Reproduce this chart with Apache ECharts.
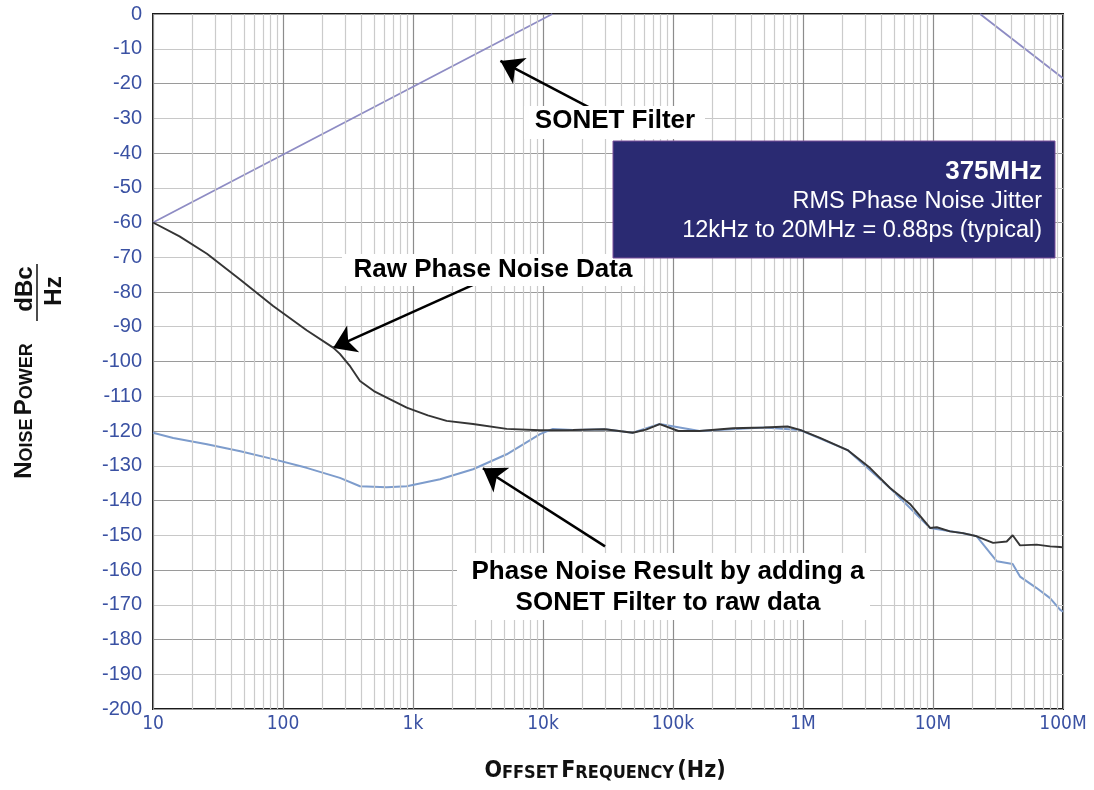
<!DOCTYPE html>
<html>
<head>
<meta charset="utf-8">
<script src="https://cdn.jsdelivr.net/npm/echarts@6/dist/echarts.min.js"></script>
<style>
html,body{margin:0;padding:0;background:#fff;}
#chart{width:1094px;height:790px;}
</style>
</head>
<body>
<div id="chart"></div>
<script>
// ---- data ----
var xTickLabels = {10:'10',100:'100',1000:'1k',10000:'10k',100000:'100k',1000000:'1M',10000000:'10M',100000000:'100M'};

var rawFreq = [10,16,26,47,84,152,243,274,330,391,500,628,895,1300,1815,2895,5260,9480,17000,30000,49000,62000,79000,110000,160000,290000,500000,760000,950000,1350000,2200000,3270000,4670000,6650000,9500000,10700000,13500000,17000000,21700000,29000000,36900000,41000000,46700000,62700000,79500000,94800000,100000000];
var rawDb   = [-60,-64,-69,-76.5,-84,-91,-96,-97.8,-101.5,-105.6,-108.5,-110.4,-113.3,-115.5,-117.1,-118,-119.4,-119.8,-119.7,-119.5,-120.5,-119.6,-118,-120,-120,-119.2,-119,-118.7,-119.7,-122,-125.5,-130.6,-136.4,-141,-147.9,-147.7,-148.9,-149.4,-150.3,-152.2,-151.8,-150,-152.9,-152.7,-153.2,-153.4,-153.5];

var filtFreq = [10,14.3,26,47,84,152,274,391,628,895,1615,2895,5260,9480,11900,17000,30000,49000,79000,160000,500000,950000,2200000,4670000,9500000,17000000,21700000,31000000,41000000,46700000,62700000,79500000,94800000,100000000];
var filtDb   = [-120.5,-122,-123.8,-125.8,-128.1,-130.6,-133.5,-135.9,-136.2,-135.9,-133.9,-131,-126.7,-120.9,-119.4,-119.7,-119.5,-120.5,-118,-120,-119,-119.7,-125.5,-136.4,-147.9,-149.4,-150.3,-157.5,-158.3,-161.9,-165.2,-168.1,-171.4,-172];

var sonetFreq = [10,11800,null,23000000,100000000];
var sonetDb   = [-60,0,null,0,-18.5];

var yMin = -200, yMax = 0, yStep = 10;
var xMin = 10, xMax = 100000000;
var minorMult = [2,3,4,5,6,7,8,9];

function pairs(f, v){ return f.map(function(x,i){ return x===null ? [null,null] : [x, v[i]]; }); }

var minorLines = [];
for (var d = xMin; d < xMax; d *= 10) {
  minorMult.forEach(function(m){ minorLines.push({xAxis: d*m}); });
}

var blue = '#3a51a3';
var annFont = "bold 26px 'Liberation Sans',Arial,sans-serif";
var chart = echarts.init(document.getElementById('chart'));
var option = {
  animation: false,
  backgroundColor: '#fff',
  grid: {left:153, right:31, top:14, bottom:81, show:true, borderColor:'#1a1a1a', borderWidth:2, backgroundColor:'transparent'},
  xAxis: {
    type:'log', logBase:10, min:xMin, max:xMax,
    axisLine:{show:false}, axisTick:{show:false},
    axisLabel:{color:blue, fontSize:19, fontFamily:"'Liberation Sans Narrow','DejaVu Sans Condensed',sans-serif", margin:6,
      formatter:function(v){ return xTickLabels[Math.round(v)] || ''; }},
    splitLine:{show:true, lineStyle:{color:'#8c8c8c', width:1.2}}
  },
  yAxis: {
    type:'value', min:yMin, max:yMax, interval:yStep,
    axisLine:{show:false}, axisTick:{show:false},
    axisLabel:{color:blue, fontSize:20, fontFamily:"'Liberation Sans',Arial,sans-serif", margin:11},
    splitLine:{show:true, lineStyle:{color:['#9a9a9a','#c8c8c8'], width:1.2}}
  },
  series: [
    {
      name:'grid-minor', type:'line', data:[], silent:true,
      markLine:{silent:true, symbol:['none','none'], label:{show:false},
        lineStyle:{color:'#cbcbcb', type:'solid', width:1.2}, data:minorLines, animation:false}
    },
    {
      name:'SONET Filter', type:'line', data:pairs(sonetFreq, sonetDb), showSymbol:false, connectNulls:false,
      lineStyle:{color:'#8e8cc4', width:1.8}, z:3
    },
    {
      name:'Filtered', type:'line', data:pairs(filtFreq, filtDb), showSymbol:false,
      lineStyle:{color:'#7d9ccc', width:2}, z:4
    },
    {
      name:'Raw', type:'line', data:pairs(rawFreq, rawDb), showSymbol:false,
      lineStyle:{color:'#353535', width:1.9}, z:5
    },
    {
      name:'arrows', type:'line', data:[], silent:true, z:10,
      markLine:{silent:true, symbol:['none','arrow'], symbolSize:22, label:{show:false},
        lineStyle:{color:'#000', type:'solid', width:2.5},
        data:[
          [{coord:[23000,-27]},{coord:[4700,-13.5]}],
          [{coord:[3162,-77.3]},{coord:[243,-96.1]}],
          [{coord:[30000,-153.2]},{coord:[3450,-130.7]}]
        ], animation:false}
    }
  ],
  graphic: [
    {type:'rect', shape:{x:524,y:106,width:181,height:33}, style:{fill:'#fff'}, z:20},
    {type:'text', x:615, y:121, z:21, style:{text:'SONET Filter', font:annFont, fill:'#000', textAlign:'center', textVerticalAlign:'middle'}},
    {type:'rect', shape:{x:342,y:254,width:302,height:32}, style:{fill:'#fff'}, z:20},
    {type:'text', x:493, y:270, z:21, style:{text:'Raw Phase Noise Data', font:annFont, fill:'#000', textAlign:'center', textVerticalAlign:'middle'}},
    {type:'rect', shape:{x:457,y:553,width:413,height:67}, style:{fill:'#fff'}, z:20},
    {type:'text', x:668, y:572, z:21, style:{text:'Phase Noise Result by adding a', font:annFont, fill:'#000', textAlign:'center', textVerticalAlign:'middle'}},
    {type:'text', x:668, y:603, z:21, style:{text:'SONET Filter to raw data', font:annFont, fill:'#000', textAlign:'center', textVerticalAlign:'middle'}},
    {type:'rect', shape:{x:613,y:141,width:442,height:117}, style:{fill:'#2a2a72', stroke:'#7a4f9a', lineWidth:1}, z:20},
    {type:'text', x:1042, y:172, z:21, style:{text:'375MHz', font:"bold 26px 'Liberation Sans',Arial,sans-serif", fill:'#fff', textAlign:'right', textVerticalAlign:'middle'}},
    {type:'text', x:1042, y:202, z:21, style:{text:'RMS Phase Noise Jitter', font:"23.5px 'Liberation Sans',Arial,sans-serif", fill:'#fff', textAlign:'right', textVerticalAlign:'middle'}},
    {type:'text', x:1042, y:231, z:21, style:{text:'12kHz to 20MHz = 0.88ps (typical)', font:"23.5px 'Liberation Sans',Arial,sans-serif", fill:'#fff', textAlign:'right', textVerticalAlign:'middle'}},
    // x axis title (small caps)
    {type:'text', x:605, y:771, z:21, style:{
      text:'{b|O}{s|FFSET} {b|F}{s|REQUENCY} {b|(Hz)}',
      textAlign:'center', textVerticalAlign:'middle',
      rich:{
        b:{font:"bold 23px 'Liberation Sans Narrow','DejaVu Sans Condensed',sans-serif", fill:'#111', textVerticalAlign:'bottom'},
        s:{font:"bold 18px 'Liberation Sans Narrow','DejaVu Sans Condensed',sans-serif", fill:'#111', textVerticalAlign:'bottom'}
      }}},
    // y axis title (small caps) rotated
    {type:'text', x:24, y:411, rotation:Math.PI/2, z:21, style:{
      text:'{b|N}{s|OISE} {b|P}{s|OWER}',
      textAlign:'center', textVerticalAlign:'middle',
      rich:{
        b:{font:"bold 24px 'Liberation Sans',Arial,sans-serif", fill:'#111', textVerticalAlign:'bottom'},
        s:{font:"bold 18px 'Liberation Sans',Arial,sans-serif", fill:'#111', textVerticalAlign:'bottom'}
      }}},
    {type:'text', x:25, y:289, rotation:Math.PI/2, z:21, style:{text:'dBc', font:"bold 24px 'Liberation Sans',Arial,sans-serif", fill:'#111', textAlign:'center', textVerticalAlign:'middle'}},
    {type:'text', x:54, y:291, rotation:Math.PI/2, z:21, style:{text:'Hz', font:"bold 24px 'Liberation Sans',Arial,sans-serif", fill:'#111', textAlign:'center', textVerticalAlign:'middle'}},
    {type:'line', shape:{x1:37,y1:264,x2:37,y2:321}, style:{stroke:'#111', lineWidth:1.5}, z:21}
  ]
};
chart.setOption(option);
</script>
</body>
</html>
